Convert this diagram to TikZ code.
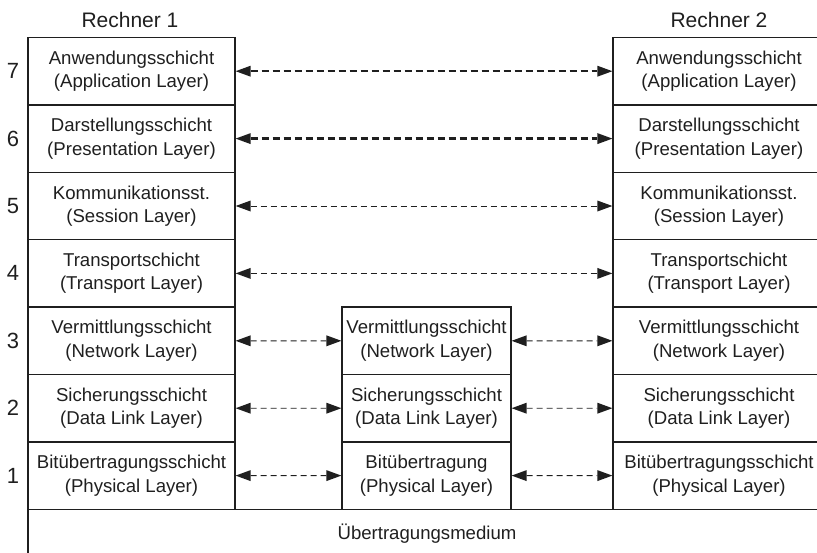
\documentclass[tikz,border=0pt]{standalone}
\usepackage{fontspec}
\setmainfont{Liberation Sans}
\usetikzlibrary{arrows.meta}
\definecolor{ink}{gray}{0.12}
\tikzset{
  layerbox/.style={draw=ink, line width=1.3pt, rectangle, inner sep=0pt,
    minimum height=67.4pt, align=center, text=ink,
    font=\fontsize{18.6}{23.5}\selectfont},
  leftbox/.style={layerbox, minimum width=207pt},
  midbox/.style={layerbox, minimum width=169pt},
  rightbox/.style={layerbox, minimum width=212pt},
  peerlink/.style={draw=ink, line width=0.9pt, dash pattern=on 6pt off 4pt,
    {Triangle[length=15pt,width=11pt,line width=0pt]}-{Triangle[length=15pt,width=11pt,line width=0pt]}},
  peerthick/.style={peerlink, line width=2.3pt, dash pattern=on 7pt off 4pt},
  numlabel/.style={text=ink, font=\fontsize{22}{26}\selectfont, inner sep=0pt},
  headlabel/.style={text=ink, font=\fontsize{21}{25}\selectfont, inner sep=0pt}
}
\begin{document}
\begin{tikzpicture}[x=1pt,y=-1pt]
\useasboundingbox (0,0) rectangle (817,552);
\clip (0,0) rectangle (817,552);

% column headings
\node[headlabel] (h1) at (130,20) {Rechner 1};
\node[headlabel] (h2) at (719,20) {Rechner 2};

% end systems, layers 7 .. 1
\foreach \k/\de/\en [evaluate=\k as \yy using 37.5+67.4*(7-\k)+33.7] in {
  7/Anwendungsschicht/Application Layer,
  6/Darstellungsschicht/Presentation Layer,
  5/Kommunikationsst./Session Layer,
  4/Transportschicht/Transport Layer,
  3/Vermittlungsschicht/Network Layer,
  2/Sicherungsschicht/Data Link Layer,
  1/Bitübertragungsschicht/Physical Layer}{
  \node[leftbox] (L\k) at (131.5,\yy) {\de\\(\en)};
  \node[rightbox] (R\k) at (719,\yy) {\de\\(\en)};
  \node[numlabel] (n\k) at (13,\yy) {\k};
}

% intermediate system, layers 3 .. 1
\node[midbox] (M3) at (426.5,340.8) {Vermittlungsschicht\\(Network Layer)};
\node[midbox] (M2) at (426.5,408.2) {Sicherungsschicht\\(Data Link Layer)};
\node[midbox] (M1) at (426.5,475.6) {Bitübertragung\\(Physical Layer)};

% transmission medium
\node[layerbox, minimum width=798pt, minimum height=48pt] (med) at (427,533.3) {Übertragungsmedium};

% peer-to-peer protocols
\draw[peerthick] (L7.east) -- (R7.west);
\draw[peerthick] (L6.east) -- (R6.west);
\draw[peerlink] (L5.east) -- (R5.west);
\draw[peerlink] (L4.east) -- (R4.west);
\foreach \k in {3,2,1}{
  \draw[peerlink] (L\k.east) -- (M\k.west);
  \draw[peerlink] (M\k.east) -- (R\k.west);
}
\end{tikzpicture}
\end{document}
